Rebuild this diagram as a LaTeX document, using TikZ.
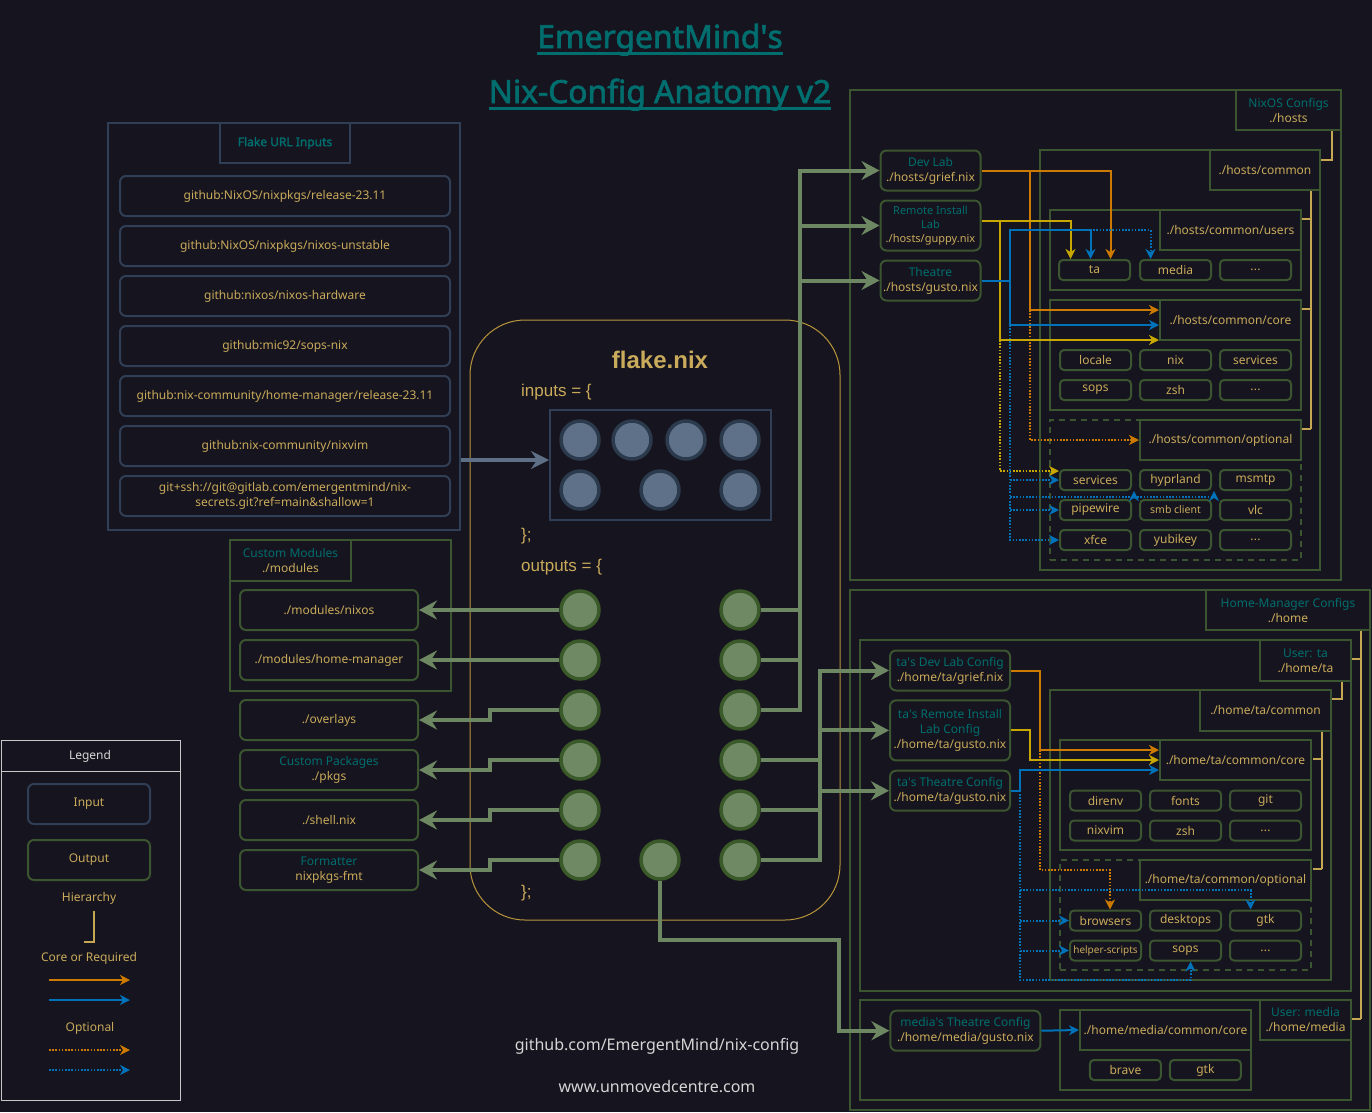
\documentclass[tikz,border=0pt]{standalone}
\usepackage{fontspec}
\setmainfont{Noto Sans}
\newfontfamily\boldsans{Noto Sans}[FakeBold=2.2]
\newfontfamily\nixfont{Liberation Sans}
\usetikzlibrary{arrows.meta,calc}

\definecolor{cBg}{RGB}{22,20,30}
\definecolor{cTeal}{RGB}{0,110,110}
\definecolor{cGold}{RGB}{201,171,91}
\definecolor{cDGreen}{RGB}{59,85,48}
\definecolor{cLGreen}{RGB}{109,135,98}
\definecolor{cOutRim}{RGB}{58,90,42}
\definecolor{cOutFill}{RGB}{110,137,99}
\definecolor{cInRim}{RGB}{44,58,78}
\definecolor{cInFill}{RGB}{95,113,137}
\definecolor{cSlate}{RGB}{48,63,86}
\definecolor{cLSlate}{RGB}{94,111,134}
\definecolor{cOrange}{RGB}{204,122,0}
\definecolor{cYellow}{RGB}{200,168,0}
\definecolor{cBlue}{RGB}{0,114,186}
\definecolor{cHier}{RGB}{198,168,84}
\definecolor{cFlake}{RGB}{184,150,60}
\definecolor{cGray}{RGB}{200,200,200}
\definecolor{cWhite}{RGB}{214,214,214}

\newcommand{\tealtxt}[1]{\textcolor{cTeal}{#1}}
\newcommand{\fsz}[2]{\fontsize{#1}{#2}\selectfont}
\newcommand{\ellip}{.\kern0.3pt.\kern0.3pt.}

\begin{document}
\begin{tikzpicture}[x=1pt,y=-1pt,
    span/.style n args={4}{at={({(#1+#3)/2},{(#2+#4)/2})},minimum width={#3-#1},minimum height={#4-#2}}]
    \tikzstyle{grp}=[draw=cDGreen,line width=2pt,inner sep=0pt]
    \tikzstyle{optgrp}=[grp,dash pattern=on 6pt off 5pt]
    \tikzstyle{hdr}=[grp,align=center,text=cGold,font=\fsz{12}{15}]
    \tikzstyle{item}=[draw=cDGreen,line width=2pt,rounded corners=4pt,minimum width=71pt,minimum height=20pt,inner sep=0pt,text=cGold,font=\fsz{12}{15}]
    \tikzstyle{cfg}=[draw=cDGreen,line width=2pt,rounded corners=6pt,inner sep=0pt,align=center,text=cGold,font=\fsz{12}{15}]
    \tikzstyle{urlbox}=[cfg,draw=cSlate,minimum width=330pt,minimum height=40pt]
    \tikzstyle{incirc}=[circle,draw=cInRim,fill=cInFill,line width=3.5pt,minimum size=38pt,inner sep=0pt]
    \tikzstyle{outcirc}=[incirc,draw=cOutRim,fill=cOutFill]
    \tikzstyle{nixtxt}=[text=cGold,font=\nixfont\fsz{17}{20},inner sep=0pt,anchor=west]
    \tikzstyle{outwire}=[draw=cLGreen,line width=4pt]
    \tikzstyle{outarr}=[outwire,-{Stealth[length=18pt,width=19pt,inset=6pt]}]
    \tikzstyle{inarr}=[draw=cLSlate,line width=4pt,-{Stealth[length=18pt,width=18pt,inset=6pt]}]
    \tikzstyle{corearr}=[line width=2pt,-{Stealth[length=10pt,width=10pt,inset=3pt]}]
    \tikzstyle{optarr}=[corearr,dash pattern=on 1.6pt off 1.6pt]
    \tikzstyle{hier}=[draw=cHier,line width=2pt]
    \tikzstyle{legtxt}=[text=cGold,font=\fsz{12}{15}]

    \fill[cBg] (0,0) rectangle (1372,1112);
    \useasboundingbox (0,0) rectangle (1372,1112);

    % title
    \node[text=cTeal,font=\boldsans\fsz{31.8}{36},inner sep=0pt,anchor=base] (T-1) at (660,48) {EmergentMind\textquotesingle s};
    \node[text=cTeal,font=\boldsans\fsz{31.8}{36},inner sep=0pt,anchor=base] (T-2) at (660,103) {Nix-Config Anatomy v2};
    \foreach \t in {1,2}
        \draw[cTeal,line width=3pt] ($(T-\t.base west)+(0,5)$) -- ($(T-\t.base east)+(0,5)$);

    % flake inputs
    \node[grp,draw=cSlate,span={108}{123}{460}{530}] (G-url) {};
    \node[hdr,draw=cSlate,text=cTeal,font=\boldsans\fsz{12}{15},span={220}{123}{350}{163}] (H-url) {Flake URL Inputs};
    \foreach \n/\txt in {1/{github:NixOS/nixpkgs/release-23.11}, 2/{github:NixOS/nixpkgs/nixos-unstable},
                         3/{github:nixos/nixos-hardware}, 4/{github:mic92/sops-nix},
                         5/{github:nix-community/home-manager/release-23.11}, 6/{github:nix-community/nixvim},
                         7/{git+ssh://git@gitlab.com/emergentmind/nix-\\secrets.git?ref=main\&shallow=1}}
        \node[urlbox] (U-\n) at (285,146+50*\n) {\txt};

    % flake.nix
    \node[draw=cFlake,line width=1pt,rounded corners=55pt,inner sep=0pt,span={470}{320}{840}{920}] (F) {};
    \node[text=cGold,font=\nixfont\bfseries\fsz{24}{28}] (F-title) at (660,360) {flake.nix};
    \node[nixtxt] (F-in) at (521,392) {inputs = \{};
    \node[nixtxt] (F-e1) at (521,536) {\};};
    \node[nixtxt] (F-out) at (521,567) {outputs = \{};
    \node[nixtxt] (F-e2) at (521,893) {\};};
    \node[grp,draw=cSlate,span={550}{410}{771}{520}] (I-box) {};
    \foreach \n/\x/\y in {1/580/440, 2/632/440, 3/686/440, 4/740/440, 5/580/490, 6/660/490, 7/740/490}
        \node[incirc] (I-\n) at (\x,\y) {};
    \foreach \n/\y in {1/610, 2/660, 3/710, 4/760, 5/810, 6/860} {
        \node[outcirc] (OL-\n) at (580,\y) {};
        \node[outcirc] (OR-\n) at (740,\y) {};
    }
    \node[outcirc] (OM) at (660,860) {};
    \draw[inarr] ([yshift=5pt]I-box.west -| G-url.east) -- ([yshift=5pt]I-box.west);

    % left outputs
    \node[grp,span={230}{540}{451}{691}] (G-mod) {};
    \node[hdr,span={230}{540}{351}{581}] (H-mod) {\tealtxt{Custom Modules}\\./modules};
    \foreach \n/\y/\txt in {1/610/{./modules/nixos}, 2/660/{./modules/home-manager}, 3/720/{./overlays},
                            4/770/{\tealtxt{Custom Packages}\\./pkgs}, 5/820/{./shell.nix},
                            6/870/{\tealtxt{Formatter}\\nixpkgs-fmt}}
        \node[cfg,minimum width=178pt,minimum height=40pt] (L-\n) at (329,\y) {\txt};
    \foreach \n in {1,2}
        \draw[outarr] (OL-\n.west) -- (L-\n.east);
    \foreach \n in {3,4,5,6}
        \draw[outarr] (OL-\n.west) -- ++(-69,0) |- (L-\n.east);

    % nixos configs
    \node[grp,span={850}{90}{1341}{580}] (G-nixos) {};
    \node[hdr,span={1236}{90}{1341}{130}] (H-nixos) {\tealtxt{NixOS Configs}\\./hosts};
    \node[grp,span={1040}{150}{1320}{570}] (G-hcom) {};
    \node[hdr,span={1210}{150}{1320}{190}] (H-hcom) {./hosts/common};
    \node[grp,span={1050}{210}{1301}{290}] (G-husr) {};
    \node[hdr,span={1160}{210}{1301}{250}] (H-husr) {./hosts/common/users};
    \node[grp,span={1050}{300}{1301}{410}] (G-hcore) {};
    \node[hdr,span={1160}{300}{1301}{340}] (H-hcore) {./hosts/common/core};
    \node[optgrp,span={1050}{420}{1301}{560}] (G-hopt) {};
    \node[hdr,span={1140}{420}{1301}{460}] (H-hopt) {./hosts/common/optional};

    \node[cfg,minimum width=100pt,minimum height=40pt] (N-dev) at (930.5,170.5) {\tealtxt{Dev Lab}\\./hosts/grief.nix};
    \node[cfg,minimum width=100pt,minimum height=50pt,font=\fsz{11}{14}] (N-rem) at (930.5,225.5) {\tealtxt{Remote Install}\\\tealtxt{Lab}\\./hosts/guppy.nix};
    \node[cfg,minimum width=100pt,minimum height=40pt] (N-thr) at (930.5,280.5) {\tealtxt{Theatre}\\./hosts/gusto.nix};

    \foreach \n/\x/\txt in {1/1094.5/ta, 2/1175.5/media, 3/1255.5/\ellip}
        \node[item] (HU-\n) at (\x,270) {\txt};
    \foreach \n/\x/\y/\txt in {1/1095.5/360/locale, 2/1175.5/360/nix, 3/1255.5/360/services,
                               4/1095.5/390/sops, 5/1175.5/390/zsh, 6/1255.5/390/\ellip}
        \node[item] (HC-\n) at (\x,\y) {\txt};
    \foreach \n/\x/\y/\txt in {1/1095.5/480/services, 2/1175.5/480/hyprland, 3/1255.5/480/msmtp,
                               4/1095.5/510/pipewire, 5/1175.5/510/{\fsz{10.5}{13}smb client}, 6/1255.5/510/vlc,
                               7/1095.5/540/xfce, 8/1175.5/540/yubikey, 9/1255.5/540/\ellip}
        \node[item] (HO-\n) at (\x,\y) {\txt};

    % home-manager configs
    \node[grp,span={850}{590}{1370}{1110}] (G-home) {};
    \node[hdr,span={1206}{590}{1370}{630}] (H-home) {\tealtxt{Home-Manager Configs}\\./home};
    \node[grp,span={860}{640}{1351}{991}] (G-uta) {};
    \node[hdr,span={1260}{640}{1351}{681}] (H-uta) {\tealtxt{User: ta}\\./home/ta};
    \node[grp,span={1050}{690}{1331}{980}] (G-tcom) {};
    \node[hdr,span={1200}{690}{1331}{731}] (H-tcom) {./home/ta/common};
    \node[grp,span={1060}{740}{1311}{850}] (G-tcore) {};
    \node[hdr,span={1160}{740}{1311}{780}] (H-tcore) {./home/ta/common/core};
    \node[optgrp,span={1060}{860}{1311}{970}] (G-topt) {};
    \node[hdr,span={1140}{860}{1311}{900}] (H-topt) {./home/ta/common/optional};
    \node[grp,span={860}{1000}{1351}{1100}] (G-umed) {};
    \node[hdr,span={1260}{1000}{1351}{1040}] (H-umed) {\tealtxt{User: media}\\./home/media};
    \node[grp,span={1060}{1010}{1251}{1090}] (G-mcore) {};
    \node[hdr,span={1080}{1010}{1251}{1050}] (H-mcore) {./home/media/common/core};

    \node[cfg,minimum width=120pt,minimum height=40pt] (A-dev) at (950,670.5) {\tealtxt{ta\textquotesingle s Dev Lab Config}\\./home/ta/grief.nix};
    \node[cfg,minimum width=120pt,minimum height=60pt] (A-rem) at (950,730.4) {\tealtxt{ta\textquotesingle s Remote Install}\\\tealtxt{Lab Config}\\./home/ta/gusto.nix};
    \node[cfg,minimum width=120pt,minimum height=40pt] (A-thr) at (950,790.7) {\tealtxt{ta\textquotesingle s Theatre Config}\\./home/ta/gusto.nix};
    \node[cfg,minimum width=150pt,minimum height=40pt] (B-thr) at (965.4,1030.7) {\tealtxt{media\textquotesingle s Theatre Config}\\./home/media/gusto.nix};

    \foreach \n/\x/\y/\txt in {1/1105.5/800.5/direnv, 2/1185.5/800.5/fonts, 3/1265.5/800.5/git,
                               4/1105.5/830.5/nixvim, 5/1185.5/830.5/zsh, 6/1265.5/830.5/\ellip}
        \node[item] (TC-\n) at (\x,\y) {\txt};
    \foreach \n/\x/\y/\txt in {1/1105.5/920.5/browsers, 2/1185.5/920.5/desktops, 3/1265.5/920.5/gtk,
                               4/1105.5/950.5/{\fsz{10}{12}helper-scripts}, 5/1185.5/950.5/sops, 6/1265.5/950.5/\ellip}
        \node[item] (TO-\n) at (\x,\y) {\txt};
    \foreach \n/\x/\txt in {1/1125.4/brave, 2/1205.4/gtk}
        \node[item] (MC-\n) at (\x,1070) {\txt};

    % hierarchy brackets
    \draw[hier] (H-nixos.south east) ++(-10,0) |- ($(H-hcom.north east)+(0,11)$);
    \coordinate (hc) at ($(H-hcom.south east)+(-10,0)$);
    \draw[hier] (hc) -- ($(hc |- H-hopt.north)+(0,10)$);
    \foreach \g in {husr,hcore,hopt}
        \draw[hier] (hc |- H-\g.north east) ++(0,10) -- ++(-9,0);
    \coordinate (hh) at ($(H-home.south east)+(-10,0)$);
    \draw[hier] (hh) -- ($(hh |- H-umed.north)+(0,20)$);
    \foreach \g in {uta,umed}
        \draw[hier] (hh |- H-\g.north east) ++(0,20) -- ++(-9,0);
    \draw[hier] (H-uta.south east) ++(-10,0) |- ($(H-tcom.north east)+(0,10)$);
    \coordinate (hm) at ($(H-tcom.south east)+(-10,0)$);
    \draw[hier] (hm) -- ($(hm |- H-topt.north)+(0,10)$);
    \draw[hier] (hm |- H-tcore.north east) ++(0,20) -- ++(-9,0);
    \draw[hier] (hm |- H-topt.north east) ++(0,10) -- ++(-9,0);

    % right outputs
    \coordinate (busH) at (800,0);
    \coordinate (busT) at (820,0);
    \foreach \n in {1,2}
        \draw[outwire] (OR-\n.east) -- (OR-\n -| busH);
    \draw[outarr] (OR-3.east) -| (busH |- N-dev) -- (N-dev.west);
    \foreach \h in {rem,thr}
        \draw[outarr] (busH |- N-\h) -- (N-\h.west);
    \foreach \n in {4,5}
        \draw[outwire] (OR-\n.east) -- (OR-\n -| busT);
    \draw[outarr] (OR-6.east) -| (busT |- A-dev) -- (A-dev.west);
    \foreach \h in {rem,thr}
        \draw[outarr] (busT |- A-\h) -- (A-\h.west);
    \draw[outarr] (OM.south) -- ++(0,59) -| ($(B-thr.west)+(-50,0)$) -- (B-thr.west);

    % host links
    \coordinate (o-1) at (1030,310);
    \coordinate (y-1) at (1000,340);
    \coordinate (b-1) at (1010,230);
    \coordinate (b-2) at (1010,325);
    \coordinate (b-3) at (1090,230);
    \coordinate (b-4) at (1010,497);
    \draw[corearr,cOrange] (N-dev.east) -| ($(HU-1.north)+(16,0)$);
    \draw[corearr,cOrange] (N-dev.east) -| (o-1) -- (o-1 -| H-hcore.west);
    \draw[optarr,cOrange] (o-1) |- (H-hopt.west);
    \draw[corearr,cYellow] ($(N-rem.east)+(0,-5)$) -| ($(HU-1.north)+(-24,0)$);
    \draw[corearr,cYellow] ($(N-rem.east)+(0,-5)$) -| (y-1) -- (y-1 -| H-hcore.west);
    \draw[optarr,cYellow] (y-1) |- ($(HO-1.west)+(0,-9)$);
    \draw[corearr,cBlue] (N-thr.east) -| (b-1) -| ($(HU-1.north)+(-4,0)$);
    \draw[optarr,cBlue] (b-3) -| ($(HU-2.north)+(-25,0)$);
    \draw[corearr,cBlue] (N-thr.east) -| (b-2) -- (b-2 -| H-hcore.west);
    \draw[optarr,cBlue] (b-2) |- (HO-7.west);
    \foreach \n in {1,4}
        \draw[optarr,cBlue] (b-2 |- HO-\n) -- (HO-\n.west);
    \draw[optarr,cBlue] (b-4) -| ($(HO-2.south west)+(-5,0)$);
    \draw[optarr,cBlue] ($(HO-2.south west)+(-5,6)$) -| ($(HO-3.south west)+(-5,0)$);

    % home links
    \coordinate (o-2) at (1040,750);
    \coordinate (o-3) at (1110,870);
    \coordinate (y-2) at (1030,760);
    \coordinate (b-5) at (1020,770);
    \coordinate (b-6) at (1020,980);
    \coordinate (b-7) at (1020,890);
    \draw[corearr,cOrange] (A-dev.east) -| (o-2) -- (o-2 -| H-tcore.west);
    \draw[optarr,cOrange] (o-2) |- (o-3) -- (o-3 |- TO-1.north);
    \draw[corearr,cYellow] (A-rem.east) -| (y-2) -- (y-2 -| H-tcore.west);
    \draw[corearr,cBlue] (A-thr.east) -| (b-5) -- (b-5 -| H-tcore.west);
    \draw[optarr,cBlue] (A-thr.east -| b-6) -- (b-6) -| ($(TO-5.south)+(5,0)$);
    \draw[optarr,cBlue] (b-7) -| ($(TO-3.north)+(-15,0)$);
    \foreach \n in {1,4}
        \draw[optarr,cBlue] (b-6 |- TO-\n) -- (TO-\n.west);
    \draw[corearr,cBlue] (B-thr.east) -- (H-mcore.west);

    % legend
    \node[draw=cGray,line width=1pt,inner sep=0pt,span={1}{740}{180}{1100}] (LG) {};
    \draw[cGray,line width=1pt] ($(LG.north west)+(0,32)$) -- ($(LG.north east)+(0,32)$);
    \node[text=cWhite,font=\fsz{12}{15}] (LG-t) at (90,756) {Legend};
    \node[cfg,draw=cSlate,minimum width=122pt,minimum height=40pt] (LG-in) at (89,804) {Input};
    \node[cfg,minimum width=122pt,minimum height=40pt] (LG-out) at (89,860) {Output};
    \node[legtxt] (LG-h) at (89,898) {Hierarchy};
    \draw[hier] ($(LG-h.south)+(4.5,3)$) -- ++(0,31) -- ++(-10,0);
    \node[legtxt] (LG-c) at (89,958) {Core or Required};
    \node[legtxt] (LG-o) at (90,1028) {Optional};
    \foreach \n/\st/\col/\y in {1/corearr/cOrange/980, 2/corearr/cBlue/1000, 3/optarr/cOrange/1050, 4/optarr/cBlue/1070} {
        \coordinate (LG-s\n) at (49,\y);
        \coordinate (LG-e\n) at (130,\y);
        \draw[\st,\col] (LG-s\n) -- (LG-e\n);
    }

    % footer
    \node[text=cWhite,font=\fsz{16}{20}] (FT-1) at (657,1046) {github.com/EmergentMind/nix-config};
    \node[text=cWhite,font=\fsz{16}{20}] (FT-2) at (657,1087) {www.unmovedcentre.com};
\end{tikzpicture}
\end{document}
